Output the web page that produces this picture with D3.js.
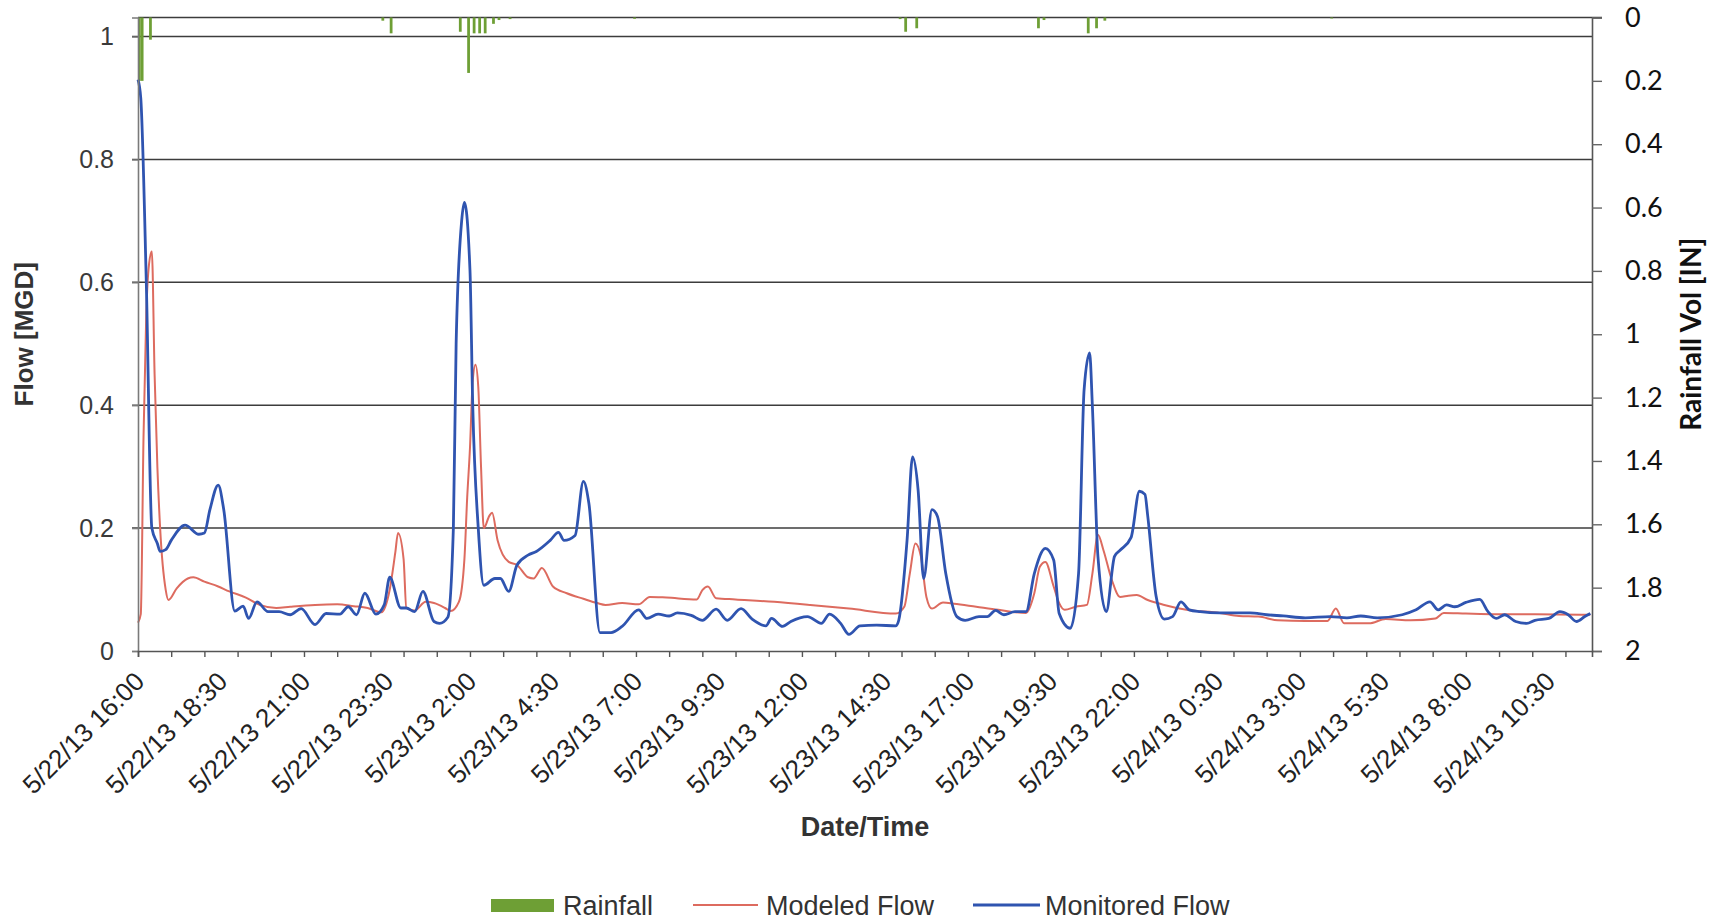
<!DOCTYPE html>
<html>
<head>
<meta charset="utf-8">
<script src="https://cdn.jsdelivr.net/npm/d3@7"></script>
<style>
  html, body { margin: 0; padding: 0; background: #ffffff; }
  svg { display: block; }
</style>
</head>
<body>
<svg id="chart" width="1720" height="922"></svg>
<script>
// ---- data ---------------------------------------------------------------
// Series times are minutes after the first reading (5/22/13 16:00).
const seriesStart = "5/22/13 16:00";
const axisEnd = "5/24/13 11:48";

const xTickLabels = [
  "5/22/13 16:00", "5/22/13 18:30", "5/22/13 21:00", "5/22/13 23:30",
  "5/23/13 2:00", "5/23/13 4:30", "5/23/13 7:00", "5/23/13 9:30",
  "5/23/13 12:00", "5/23/13 14:30", "5/23/13 17:00", "5/23/13 19:30",
  "5/23/13 22:00", "5/24/13 0:30", "5/24/13 3:00", "5/24/13 5:30",
  "5/24/13 8:00", "5/24/13 10:30"
];
const flowTicks = [0, 0.2, 0.4, 0.6, 0.8, 1];
const rainTicks = [0, 0.2, 0.4, 0.6, 0.8, 1, 1.2, 1.4, 1.6, 1.8, 2];

// Rainfall per 5-minute interval [IN]
const rainMinutes = [0, 5, 20, 440, 455, 580, 595, 605, 615, 625, 640, 650, 670,
  895, 1375, 1385, 1405, 1625, 1635, 1715, 1730, 1745, 2155];
const rainInches = [0.20, 0.20, 0.07, 0.01, 0.05, 0.045, 0.175, 0.05, 0.05, 0.05, 0.02, 0.008, 0.005,
  0.004, 0.005, 0.045, 0.034, 0.034, 0.008, 0.05, 0.034, 0.01, 0.003];

// Modeled flow [MGD]
const modeledMinutes = [0, 5, 10, 15, 20, 25, 30, 35, 40, 50, 55, 70, 90, 100, 120, 145, 165, 195,
  220, 250, 275, 320, 360, 390, 415, 440, 455, 465, 470, 480, 485, 500, 520, 535, 555, 565,
  580, 590, 595, 600, 605, 610, 615, 620, 625, 635, 640, 650, 670, 685, 705, 715, 730, 750,
  775, 805, 830, 845, 875, 905, 925, 955, 1010, 1020, 1030, 1045, 1080, 1150, 1215, 1285,
  1370, 1385, 1395, 1405, 1415, 1425, 1435, 1455, 1475, 1515, 1555, 1605, 1620, 1630, 1640,
  1655, 1665, 1675, 1695, 1715, 1725, 1735, 1745, 1760, 1775, 1790, 1805, 1825, 1855, 1895,
  1955, 1990, 2025, 2060, 2110, 2150, 2165, 2180, 2225, 2255, 2300, 2345, 2360, 2400, 2455,
  2525, 2625];
const modeledFlow = [0.046, 0.06, 0.35, 0.55, 0.63, 0.65, 0.45, 0.30, 0.20, 0.10, 0.083, 0.102, 0.118, 0.12, 0.113, 0.105, 0.097, 0.087,
  0.075, 0.07, 0.072, 0.075, 0.076, 0.073, 0.07, 0.063, 0.10, 0.16, 0.192, 0.15, 0.07, 0.066, 0.08, 0.078, 0.07, 0.065,
  0.08, 0.15, 0.25, 0.33, 0.44, 0.466, 0.43, 0.30, 0.20, 0.22, 0.225, 0.18, 0.145, 0.14, 0.12, 0.118, 0.135, 0.105,
  0.094, 0.085, 0.078, 0.075, 0.078, 0.076, 0.088, 0.087, 0.084, 0.099, 0.105, 0.086, 0.084, 0.08, 0.075, 0.069,
  0.061, 0.072, 0.126, 0.175, 0.154, 0.088, 0.069, 0.079, 0.077, 0.072, 0.067, 0.062, 0.094, 0.137, 0.145,
  0.105, 0.078, 0.067, 0.072, 0.075, 0.126, 0.189, 0.164, 0.116, 0.088, 0.09, 0.091, 0.083, 0.075, 0.067,
  0.062, 0.057, 0.056, 0.05, 0.049, 0.049, 0.069, 0.045, 0.045, 0.052, 0.05, 0.053, 0.062, 0.061, 0.06,
  0.06, 0.059];

// Monitored flow [MGD]
const monitoredMinutes = [0, 5, 15, 25, 35, 40, 50, 60, 85, 110, 120, 130, 145, 155, 175, 190, 200, 215,
  235, 255, 275, 295, 320, 340, 365, 380, 395, 410, 430, 445, 455, 475, 485, 500, 515, 535,
  545, 560, 570, 575, 585, 590, 600, 605, 615, 625, 645, 655, 670, 685, 705, 720, 745, 760,
  770, 790, 805, 815, 835, 855, 875, 905, 920, 940, 960, 975, 1000, 1020, 1045, 1065, 1090,
  1110, 1135, 1145, 1165, 1180, 1210, 1235, 1250, 1270, 1285, 1305, 1335, 1370, 1375, 1390,
  1400, 1410, 1420, 1435, 1445, 1460, 1480, 1495, 1520, 1535, 1550, 1565, 1585, 1605, 1620,
  1640, 1655, 1665, 1685, 1700, 1710, 1720, 1725, 1735, 1750, 1765, 1775, 1795, 1810, 1820,
  1825, 1840, 1855, 1870, 1885, 1900, 1920, 1955, 2010, 2040, 2070, 2110, 2155, 2185, 2210,
  2240, 2285, 2310, 2335, 2350, 2365, 2380, 2400, 2425, 2440, 2455, 2470, 2490, 2510, 2525,
  2550, 2570, 2585, 2600, 2615, 2625];
const monitoredFlow = [0.93, 0.90, 0.60, 0.20, 0.175, 0.162, 0.165, 0.18, 0.205, 0.19, 0.192, 0.23, 0.27, 0.23, 0.065, 0.073, 0.053, 0.08,
  0.064, 0.064, 0.059, 0.069, 0.043, 0.061, 0.06, 0.072, 0.059, 0.094, 0.06, 0.075, 0.12, 0.07, 0.07, 0.064, 0.097, 0.048,
  0.045, 0.055, 0.20, 0.50, 0.70, 0.73, 0.62, 0.40, 0.20, 0.107, 0.118, 0.118, 0.097, 0.14, 0.156, 0.162, 0.18, 0.193,
  0.18, 0.188, 0.276, 0.24, 0.03, 0.03, 0.04, 0.067, 0.053, 0.06, 0.057, 0.062, 0.058, 0.05, 0.068, 0.05, 0.069,
  0.052, 0.041, 0.053, 0.04, 0.048, 0.056, 0.045, 0.06, 0.045, 0.027, 0.041, 0.042, 0.041, 0.05, 0.18,
  0.316, 0.262, 0.118, 0.23, 0.219, 0.126, 0.056, 0.05, 0.056, 0.056, 0.066, 0.059, 0.064, 0.064, 0.126,
  0.167, 0.148, 0.061, 0.037, 0.126, 0.425, 0.485, 0.398, 0.154, 0.064, 0.154, 0.164, 0.185, 0.26, 0.255,
  0.22, 0.09, 0.052, 0.056, 0.08, 0.067, 0.064, 0.062, 0.062, 0.059, 0.057, 0.054, 0.056, 0.054, 0.057,
  0.054, 0.059, 0.067, 0.08, 0.067, 0.075, 0.072, 0.079, 0.084, 0.064, 0.053, 0.059, 0.048, 0.045, 0.05,
  0.053, 0.064, 0.059, 0.048, 0.056, 0.061];

// ---- layout -------------------------------------------------------------
const plot = { left: 138, right: 1592, top: 17.5, bottom: 651 };
const colors = {
  rain: "#6e9f35",
  modeled: "#dd6b5f",
  monitored: "#2f54b0",
  grid: "#3c3c3c",
  axis: "#7a7a7a"
};
const arial = "'Liberation Sans', Arial, sans-serif";
const calibri = "Lato, 'Open Sans', sans-serif";

const parseTime = d3.timeParse("%m/%d/%y %H:%M");
const t0 = parseTime(seriesStart);
const t1 = parseTime(axisEnd);
const atMinute = m => d3.timeMinute.offset(t0, m);

const x = d3.scaleTime().domain([t0, t1]).range([plot.left, plot.right]);
const yFlow = d3.scaleLinear().domain([0, 1.031]).range([plot.bottom, plot.top]);
const yRain = d3.scaleLinear().domain([0, 2]).range([plot.top, plot.bottom]);

const svg = d3.select("#chart");
svg.append("rect").attr("width", 1720).attr("height", 922).attr("fill", "#ffffff");

// ---- gridlines ----------------------------------------------------------
const grid = svg.append("g");
grid.selectAll("line.flow")
  .data(flowTicks.filter(v => v > 0))
  .join("line")
  .attr("x1", plot.left - 6).attr("x2", plot.right)
  .attr("y1", d => yFlow(d)).attr("y2", d => yFlow(d))
  .attr("stroke", colors.grid).attr("stroke-width", 1.5);
// top frame line at zero rainfall
grid.append("line")
  .attr("x1", plot.left).attr("x2", plot.right + 10)
  .attr("y1", yRain(0)).attr("y2", yRain(0))
  .attr("stroke", colors.grid).attr("stroke-width", 1.5);

// ---- rainfall bars (hang from the top) ----------------------------------
const rain = rainMinutes.map((m, i) => ({ t: atMinute(m), v: rainInches[i] }));
svg.append("g").selectAll("rect")
  .data(rain)
  .join("rect")
  .attr("x", d => x(d.t))
  .attr("width", d => Math.max(2.6, x(d3.timeMinute.offset(d.t, 5)) - x(d.t)))
  .attr("y", yRain(0))
  .attr("height", d => yRain(d.v) - yRain(0))
  .attr("fill", colors.rain);

// ---- flow lines ---------------------------------------------------------
const modeled = modeledMinutes.map((m, i) => ({ t: atMinute(m), v: modeledFlow[i] }));
const monitored = monitoredMinutes.map((m, i) => ({ t: atMinute(m), v: monitoredFlow[i] }));
const line = d3.line()
  .x(d => x(d.t))
  .y(d => yFlow(d.v))
  .curve(d3.curveMonotoneX);

svg.append("path").datum(modeled)
  .attr("d", line)
  .attr("fill", "none")
  .attr("stroke", colors.modeled)
  .attr("stroke-width", 2)
  .attr("stroke-linejoin", "round");

svg.append("path").datum(monitored)
  .attr("d", line)
  .attr("fill", "none")
  .attr("stroke", colors.monitored)
  .attr("stroke-width", 2.8)
  .attr("stroke-linejoin", "round");

// ---- axes ---------------------------------------------------------------
const leftAxis = svg.append("g")
  .attr("transform", `translate(${plot.left},0)`)
  .call(d3.axisLeft(yFlow).tickValues(flowTicks).tickSize(6).tickPadding(18)
    .tickFormat(d3.format("~g")));
leftAxis.select(".domain").attr("stroke", colors.axis).attr("stroke-width", 1.6);
leftAxis.selectAll(".tick line").attr("stroke", colors.axis).attr("stroke-width", 1.4);
leftAxis.selectAll(".tick text")
  .attr("font-family", arial).attr("font-size", 25).attr("fill", "#3a3a3a");

const rightAxis = svg.append("g")
  .attr("transform", `translate(${plot.right},0)`)
  .call(d3.axisRight(yRain).tickValues(rainTicks).tickSize(10).tickPadding(23)
    .tickFormat(d3.format("~g")));
rightAxis.select(".domain").attr("stroke", "#555").attr("stroke-width", 1.6);
rightAxis.selectAll(".tick line").attr("stroke", "#666").attr("stroke-width", 1.4);
rightAxis.selectAll(".tick text")
  .attr("font-family", calibri).attr("font-size", 27).attr("fill", "#111");

const bottomAxis = svg.append("g")
  .attr("transform", `translate(0,${plot.bottom})`)
  .call(d3.axisBottom(x).ticks(d3.timeHour.every(1)).tickSize(6).tickFormat(""));
bottomAxis.select(".domain").attr("stroke", "#555").attr("stroke-width", 1.6);
bottomAxis.selectAll(".tick line").attr("stroke", "#555").attr("stroke-width", 1.4);

// rotated date/time labels every 2.5 hours
svg.append("g").selectAll("text")
  .data(xTickLabels)
  .join("text")
  .attr("transform", d => `translate(${x(parseTime(d)) + 8},683) rotate(-45)`)
  .attr("text-anchor", "end")
  .attr("font-family", arial)
  .attr("font-size", 26)
  .attr("fill", "#222")
  .text(d => d);

// ---- axis titles --------------------------------------------------------
svg.append("text")
  .attr("transform", `translate(33,${(plot.top + plot.bottom) / 2}) rotate(-90)`)
  .attr("text-anchor", "middle")
  .attr("font-family", arial).attr("font-weight", "bold").attr("font-size", 26)
  .attr("fill", "#333")
  .text("Flow [MGD]");

svg.append("text")
  .attr("transform", `translate(1701,${(plot.top + plot.bottom) / 2}) rotate(-90)`)
  .attr("text-anchor", "middle")
  .attr("font-family", calibri).attr("font-weight", "bold").attr("font-size", 28)
  .attr("fill", "#111")
  .text("Rainfall Vol [IN]");

svg.append("text")
  .attr("x", (plot.left + plot.right) / 2).attr("y", 836)
  .attr("text-anchor", "middle")
  .attr("font-family", arial).attr("font-weight", "bold").attr("font-size", 27)
  .attr("fill", "#333")
  .text("Date/Time");

// ---- legend -------------------------------------------------------------
const legend = svg.append("g").attr("font-family", arial).attr("font-size", 27).attr("fill", "#333");
legend.append("rect").attr("x", 491).attr("y", 899).attr("width", 63).attr("height", 13).attr("fill", colors.rain);
legend.append("text").attr("x", 563).attr("y", 915).text("Rainfall");
legend.append("line").attr("x1", 693).attr("x2", 758).attr("y1", 905).attr("y2", 905)
  .attr("stroke", colors.modeled).attr("stroke-width", 2);
legend.append("text").attr("x", 766).attr("y", 915).text("Modeled Flow");
legend.append("line").attr("x1", 973).attr("x2", 1040).attr("y1", 905).attr("y2", 905)
  .attr("stroke", colors.monitored).attr("stroke-width", 2.8);
legend.append("text").attr("x", 1045).attr("y", 915).text("Monitored Flow");
</script>
</body>
</html>
